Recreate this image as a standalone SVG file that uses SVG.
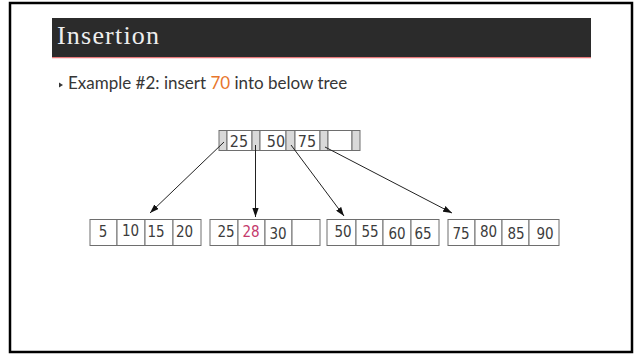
<svg xmlns="http://www.w3.org/2000/svg" width="635" height="354" viewBox="0 0 635 354">
  <style>
    .frame { fill: #ffffff; stroke: #000000; stroke-width: 2.5; }
    .title { font-family: "Liberation Serif", serif; font-size: 26px; fill: #eeeeee; letter-spacing: 1.2px; }
    .body { font-family: "Lato", "Liberation Sans", sans-serif; font-size: 17px; fill: #363636; }
    .hl { fill: #e8762b; }
    .cell { fill: #ffffff; stroke: #6e6e6e; stroke-width: 1; }
    .ptr { fill: #d9d9d9; stroke: #6e6e6e; stroke-width: 1; }
    .key { font-family: "DejaVu Sans Condensed", "DejaVu Sans", sans-serif; font-stretch: condensed; font-size: 15px; fill: #3c3c3c; text-anchor: middle; }
    .top { font-size: 16px; }
    .new { fill: #c43a6c; }
    .edge { stroke: #222222; stroke-width: 1; fill: none; marker-end: url(#head); }
  </style>
  <defs>
    <marker id="head" viewBox="0 0 10 7" refX="10" refY="3.5" markerWidth="9" markerHeight="6.5" markerUnits="userSpaceOnUse" orient="auto">
      <path d="M0,0 L10,3.5 L0,7 z" fill="#111111"/>
    </marker>
  </defs>

  <!-- slide frame -->
  <rect class="frame" x="10" y="3" width="622" height="349"/>

  <!-- title bar -->
  <g id="title">
    <rect x="52" y="18" width="539" height="39" fill="#2b2b2b"/>
    <line x1="52" y1="57.6" x2="591" y2="57.6" stroke="#e8787a" stroke-width="1.3"/>
    <text class="title" x="57" y="44">Insertion</text>
  </g>

  <!-- bullet line -->
  <g id="bullet">
    <polygon points="59,82.5 63,85 59,87.5" fill="#363636"/>
    <text class="body" x="68" y="89">Example #2: insert <tspan class="hl">70</tspan> into below tree</text>
  </g>

  <!-- root node: pointer slots (grey) alternating with keys -->
  <g id="root">
    <rect class="ptr" x="219" y="130.5" width="8" height="20"/>
    <rect class="cell" x="227" y="130.5" width="25" height="20"/>
    <rect class="ptr" x="252" y="130.5" width="8" height="20"/>
    <rect class="cell" x="260" y="130.5" width="26" height="20"/>
    <rect class="ptr" x="286" y="130.5" width="9" height="20"/>
    <rect class="cell" x="295" y="130.5" width="25" height="20"/>
    <rect class="ptr" x="320" y="130.5" width="8" height="20"/>
    <rect class="cell" x="328" y="130.5" width="24" height="20"/>
    <rect class="ptr" x="352" y="130.5" width="8" height="20"/>
    <text class="key top" x="239" y="147">25</text>
    <text class="key top" x="276" y="147">50</text>
    <text class="key top" x="307" y="147">75</text>
  </g>

  <!-- leaf nodes -->
  <g id="leaf1">
    <rect class="cell" x="90" y="219.5" width="27" height="26"/>
    <rect class="cell" x="117" y="219.5" width="28" height="26"/>
    <rect class="cell" x="145" y="219.5" width="28" height="26"/>
    <rect class="cell" x="173" y="219.5" width="28" height="26"/>
    <text class="key" x="103" y="237">5</text>
    <text class="key" x="130.5" y="236">10</text>
    <text class="key" x="156" y="237">15</text>
    <text class="key" x="184.5" y="237">20</text>
  </g>

  <g id="leaf2">
    <rect class="cell" x="210" y="219.5" width="28" height="26"/>
    <rect class="cell" x="238" y="219.5" width="27" height="26"/>
    <rect class="cell" x="265" y="219.5" width="27" height="26"/>
    <rect class="cell" x="292" y="219.5" width="28" height="26"/>
    <text class="key" x="226" y="237">25</text>
    <text class="key new" x="251" y="236.5">28</text>
    <text class="key" x="278" y="239">30</text>
  </g>

  <g id="leaf3">
    <rect class="cell" x="327" y="219.5" width="29" height="26"/>
    <rect class="cell" x="356" y="219.5" width="27" height="26"/>
    <rect class="cell" x="383" y="219.5" width="28" height="26"/>
    <rect class="cell" x="411" y="219.5" width="28" height="26"/>
    <text class="key" x="343" y="237">50</text>
    <text class="key" x="370" y="236.5">55</text>
    <text class="key" x="397" y="238.5">60</text>
    <text class="key" x="423" y="238.5">65</text>
  </g>

  <g id="leaf4">
    <rect class="cell" x="448" y="219.5" width="27" height="26"/>
    <rect class="cell" x="475" y="219.5" width="27" height="26"/>
    <rect class="cell" x="502" y="219.5" width="27" height="26"/>
    <rect class="cell" x="529" y="219.5" width="30" height="26"/>
    <text class="key" x="461" y="238.5">75</text>
    <text class="key" x="488.5" y="237">80</text>
    <text class="key" x="516" y="238.5">85</text>
    <text class="key" x="545" y="238.5">90</text>
  </g>

  <!-- child pointers -->
  <g id="connectors">
    <line class="edge" x1="224" y1="142" x2="150" y2="213"/>
    <line class="edge" x1="255.5" y1="145" x2="255.5" y2="217"/>
    <line class="edge" x1="291" y1="145" x2="344" y2="216"/>
    <line class="edge" x1="325" y1="147" x2="452" y2="213"/>
  </g>
</svg>
